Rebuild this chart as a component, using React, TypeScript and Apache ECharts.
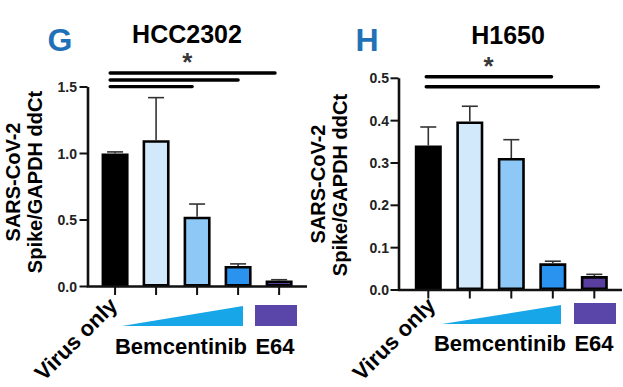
import React, { useEffect, useRef } from "react";
import * as echarts from "echarts";

// ---- data ----
const positions = [0, 1, 2, 3, 4];
const categories = ["Virus only", "Bemcentinib low", "Bemcentinib mid", "Bemcentinib high", "E64"];
const hccMeans = [1.0, 1.1, 0.525, 0.155, 0.045];
const hccErrs = [0.012, 0.32, 0.095, 0.015, 0.006];
const h1650Means = [0.341, 0.398, 0.312, 0.063, 0.033];
const h1650Errs = [0.044, 0.036, 0.043, 0.005, 0.004];
const hccTicks = [0, 0.5, 1.0, 1.5];
const h1650Ticks = [0, 0.1, 0.2, 0.3, 0.4, 0.5];
const barColors = ["#000000", "#d2e8fb", "#8ec8f6", "#2a93ef", "#5a3e9f"];
// brackets: [from x, to x, y level]
const hccBrackets = [
  [-0.12, 3.9, 1.605],
  [-0.12, 3.0, 1.553],
  [-0.12, 1.88, 1.503],
];
const h1650Brackets = [
  [-0.05, 2.97, 0.5035],
  [-0.05, 4.1, 0.48],
];
const hccStar = [[1.76, 1.69]];
const h1650Star = [[1.45, 0.53]];

const FONT = "'Liberation Sans', Arial, Helvetica, sans-serif";

function panelSeries(
  xi: number,
  means: number[],
  errs: number[],
  brackets: number[][],
  star: number[][],
  ticks: number[],
  xmin: number,
  xmax: number
) {
  const ymax = ticks[ticks.length - 1];
  const stems: any[] = [];
  positions.forEach((p, i) => {
    stems.push([p, means[i]], [p, means[i] + errs[i]], [p, "-"]);
  });
  const bracketPts: any[] = [];
  brackets.forEach((b) => {
    bracketPts.push([b[0], b[2]], [b[1], b[2]], [b[1], "-"]);
  });
  return [
    // axis frame drawn through the axes' scales
    {
      type: "line",
      xAxisIndex: xi,
      yAxisIndex: xi,
      data: [[xmin, ymax], [xmin, 0], [xmax, 0]],
      symbol: "none",
      clip: false,
      z: 10,
      lineStyle: { color: "#111", width: 2.6, join: "miter", opacity: 1 },
      silent: true,
    },
    {
      type: "scatter",
      xAxisIndex: xi,
      yAxisIndex: xi,
      symbol: "rect",
      symbolSize: [2, 8],
      symbolOffset: [0, 4.5],
      clip: false,
      z: 10,
      itemStyle: { color: "#111", opacity: 1 },
      data: positions.map((p) => [p, 0]),
      silent: true,
    },
    {
      type: "scatter",
      xAxisIndex: xi,
      yAxisIndex: xi,
      symbol: "rect",
      symbolSize: [8, 2],
      symbolOffset: [-4.5, 0],
      clip: false,
      z: 10,
      itemStyle: { color: "#111", opacity: 1 },
      data: ticks.map((t) => [xmin, t]),
      silent: true,
    },
    {
      type: "line",
      xAxisIndex: xi,
      yAxisIndex: xi,
      data: stems,
      symbol: "none",
      connectNulls: false,
      lineStyle: { color: "#333", width: 1.6 },
      silent: true,
    },
    {
      type: "bar",
      xAxisIndex: xi,
      yAxisIndex: xi,
      barWidth: 27,
      data: positions.map((p, i) => ({
        value: [p, means[i]],
        itemStyle: { color: barColors[i], borderColor: "#000", borderWidth: 2.6 },
      })),
    },
    {
      type: "scatter",
      xAxisIndex: xi,
      yAxisIndex: xi,
      symbol: "rect",
      symbolSize: [16, 1.6],
      itemStyle: { color: "#333", opacity: 1 },
      data: positions.map((p, i) => [p, means[i] + errs[i]]),
      silent: true,
    },
    {
      type: "line",
      xAxisIndex: xi,
      yAxisIndex: xi,
      data: bracketPts,
      symbol: "none",
      connectNulls: false,
      clip: false,
      lineStyle: { color: "#000", width: 3.4, cap: "round" },
      silent: true,
    },
    {
      type: "scatter",
      xAxisIndex: xi,
      yAxisIndex: xi,
      clip: false,
      symbolSize: 1,
      itemStyle: { color: "rgba(0,0,0,0)" },
      data: star,
      silent: true,
      label: {
        show: true,
        position: "inside",
        formatter: "*",
        fontSize: 26,
        fontWeight: "bold",
        fontFamily: FONT,
        color: "#000",
      },
    },
  ];
}

function xAxisOpt(gi: number, min: number, max: number) {
  return {
    type: "value",
    gridIndex: gi,
    position: "bottom",
    min,
    max,
    axisLine: { show: false, onZero: false },
    axisTick: { show: false },
    axisLabel: { show: false },
    splitLine: { show: false },
  };
}

function yAxisOpt(gi: number, ticks: number[], margin: number) {
  return {
    type: "value",
    gridIndex: gi,
    position: "left",
    min: 0,
    max: ticks[ticks.length - 1],
    interval: ticks[1] - ticks[0],
    axisLine: { show: false, onZero: false },
    axisTick: { show: false },
    axisLabel: {
      margin,
      color: "#222",
      fontSize: 14,
      fontWeight: "bold",
      fontFamily: FONT,
      formatter: (v: number) => v.toFixed(1),
    },
    splitLine: { show: false },
  };
}

function txt(text: string, x: number, y: number, size: number, extra: any = {}) {
  return {
    type: "text",
    x,
    y,
    rotation: extra.rotation || 0,
    style: {
      text,
      fontSize: size,
      fontWeight: "bold",
      fontFamily: FONT,
      fill: extra.fill || "#000",
      align: extra.align || "center",
      verticalAlign: "middle",
    },
  };
}

export default function App() {
  const ref = useRef<HTMLDivElement>(null);
  useEffect(() => {
    if (!ref.current) return;
    const chart = echarts.init(ref.current, undefined, { renderer: "svg" });
    const x0: [number, number] = [-0.66, 4.68];
    const x1: [number, number] = [-0.706, 4.667];
    chart.setOption({
      animation: false,
      grid: [
        { left: 88, top: 87, width: 219, height: 199.5 },
        { left: 399, top: 78.3, width: 223, height: 211.7 },
      ],
      xAxis: [xAxisOpt(0, x0[0], x0[1]), xAxisOpt(1, x1[0], x1[1])],
      yAxis: [yAxisOpt(0, hccTicks, 11), yAxisOpt(1, h1650Ticks, 10)],
      series: [
        ...panelSeries(0, hccMeans, hccErrs, hccBrackets, hccStar, hccTicks, x0[0], x0[1]),
        ...panelSeries(1, h1650Means, h1650Errs, h1650Brackets, h1650Star, h1650Ticks, x1[0], x1[1]),
      ],
      graphic: [
        txt("G", 60, 40, 32, { fill: "#1f72b8" }),
        txt("HCC2302", 187, 34, 25),
        txt("H", 367, 40, 32, { fill: "#1f72b8" }),
        txt("H1650", 508, 35, 25),
        txt("SARS-CoV-2", 13, 182, 20, { rotation: Math.PI / 2 }),
        txt("Spike/GAPDH ddCt", 35, 182, 20, { rotation: Math.PI / 2 }),
        txt("SARS-CoV-2", 318, 184, 20, { rotation: Math.PI / 2 }),
        txt("Spike/GAPDH ddCt", 340, 185, 20, { rotation: Math.PI / 2 }),
        txt(categories[0], 76, 339, 22, { rotation: Math.PI / 4 }),
        txt(categories[0], 394, 339, 22, { rotation: Math.PI / 4 }),
        {
          type: "polygon",
          shape: { points: [[122, 326], [243, 306], [243, 326]] },
          style: { fill: "#17a6e8" },
        },
        { type: "rect", shape: { x: 255, y: 305, width: 42, height: 21 }, style: { fill: "#5a45a8" } },
        txt("Bemcentinib", 181, 346, 22),
        txt(categories[4], 275, 346, 22),
        {
          type: "polygon",
          shape: { points: [[442, 324], [561, 305], [561, 324]] },
          style: { fill: "#17a6e8" },
        },
        { type: "rect", shape: { x: 574, y: 303, width: 42, height: 21 }, style: { fill: "#5a45a8" } },
        txt("Bemcentinib", 500, 343, 22),
        txt(categories[4], 594, 343, 22),
      ],
    });
    return () => chart.dispose();
  }, []);
  return (
    <div
      ref={ref}
      style={{ position: "fixed", left: 0, top: 0, width: 623, height: 387, background: "#fff" }}
    />
  );
}
